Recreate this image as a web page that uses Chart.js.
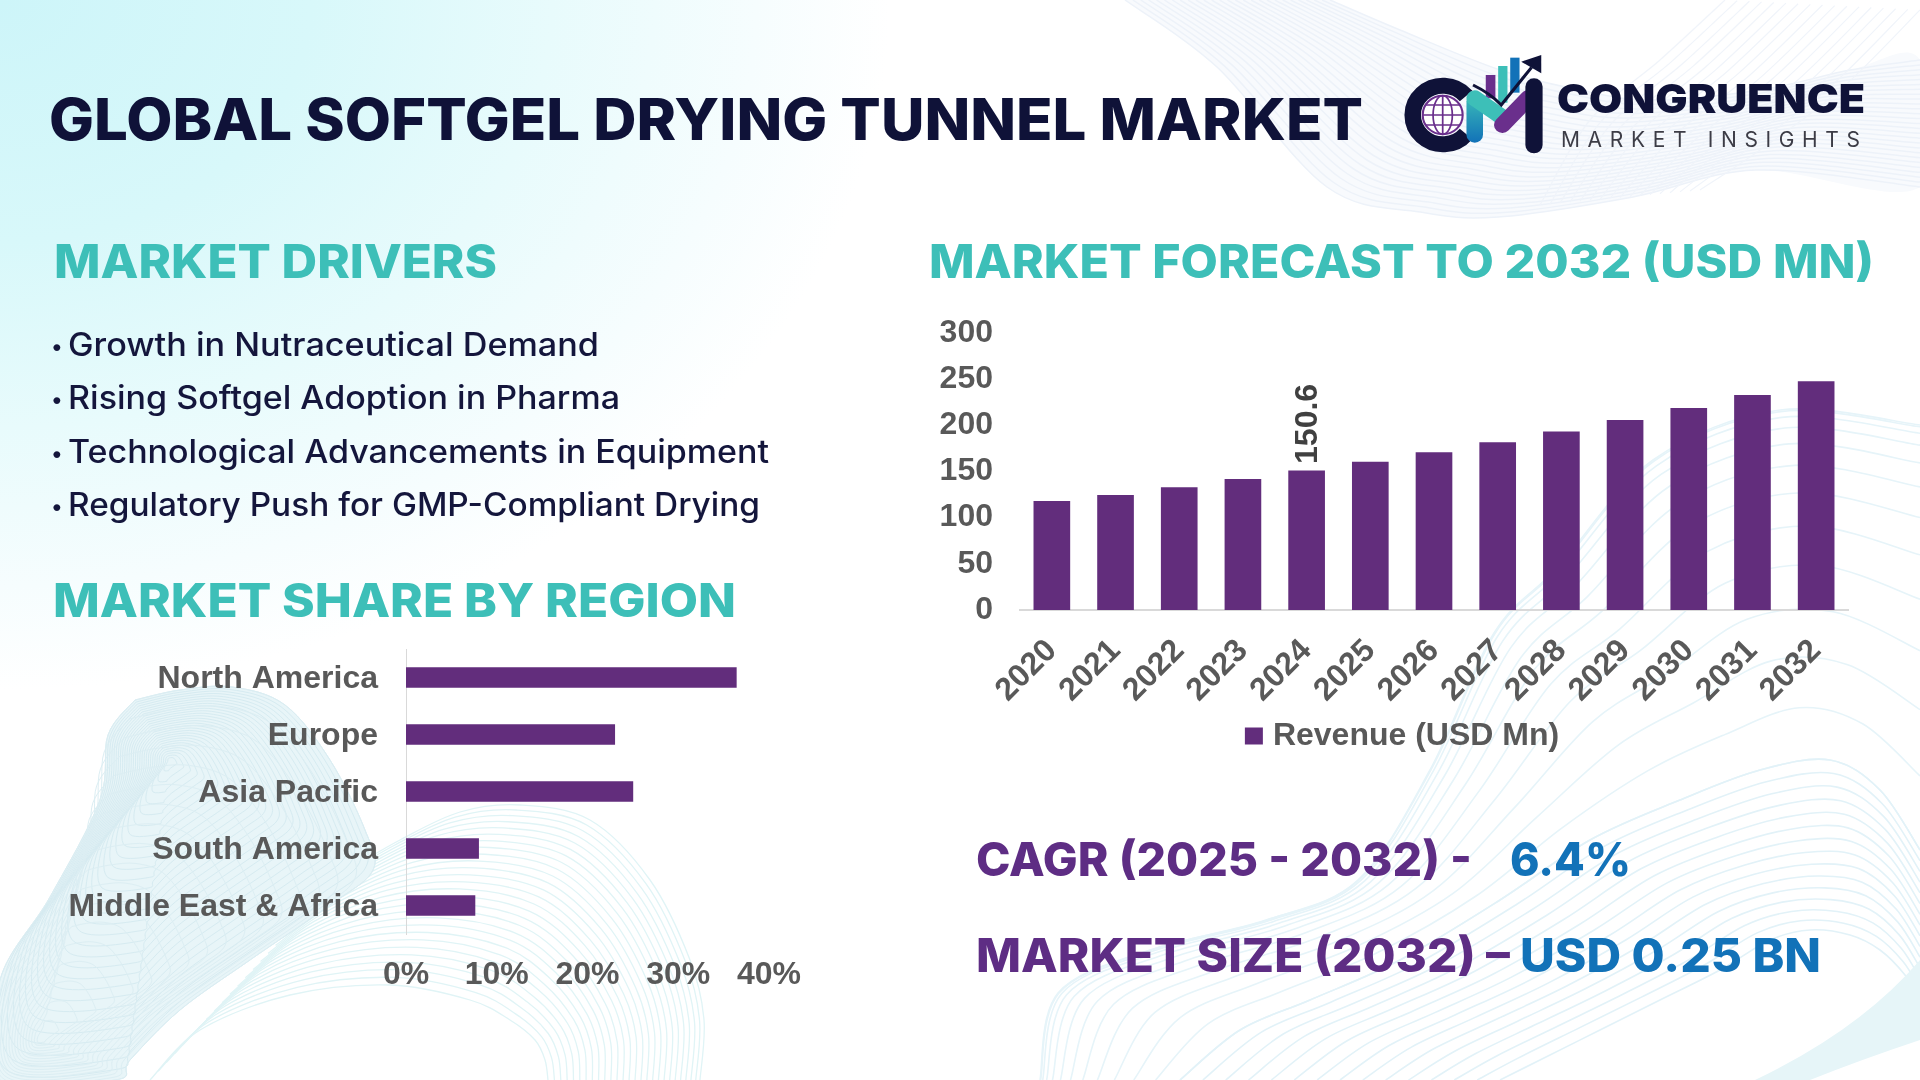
<!DOCTYPE html>
<html>
<head>
<meta charset="utf-8">
<title>Global Softgel Drying Tunnel Market</title>
<script src="https://cdn.jsdelivr.net/npm/chart.js@4"></script>
<style>
  html, body { margin: 0; padding: 0; background: #fff; }
  #page { position: relative; width: 1920px; height: 1080px; overflow: hidden;
    background: radial-gradient(ellipse 890px 690px at 0 0, #cdf5f9 0%, #d8f8fa 35%, #e8fbfc 62%, #f6fdfe 85%, #fff 100%); }
  #bg, #texts { position: absolute; left: 0; top: 0; }
  canvas { position: absolute; }
  #forecastChart { left: 930px; top: 300px; }
  #regionChart { left: 50px; top: 640px; }
  #texts text { font-family: Inter, "Noto Sans", sans-serif; }
  .title { font-weight: 800; font-size: 58px; fill: #0f1238; }
  .head { font-weight: 800; font-size: 46px; fill: #3dbfb8; }
  .item { font-weight: 500; font-size: 32px; fill: #14163c; }
  .dot { font-weight: 500; font-size: 22px; fill: #14163c; }
  .purple { font-weight: 800; font-size: 46px; fill: #5e2d84; }
  .blue { font-weight: 800; font-size: 46px; fill: #1272b8; }
</style>
</head>
<body>
<div id="page">
  <svg id="bg" width="1920" height="1080"></svg>
  <canvas id="forecastChart" width="942" height="462"></canvas>
  <canvas id="regionChart" width="760" height="360"></canvas>
  <svg id="texts" width="1920" height="1080">
    <defs>
      <linearGradient id="legFill" x1="0" y1="0" x2="0" y2="1">
        <stop offset="0" stop-color="#3dbfb8"/>
        <stop offset="1" stop-color="#1272b8"/>
      </linearGradient>
    </defs>
    <text class="title" x="49" y="140" textLength="1314" lengthAdjust="spacingAndGlyphs">GLOBAL SOFTGEL DRYING TUNNEL MARKET</text>

    <text class="head" x="54" y="278" textLength="443" lengthAdjust="spacingAndGlyphs">MARKET DRIVERS</text>
    <text class="dot" x="51" y="354">•</text>
    <text class="item" x="68" y="356" textLength="531" lengthAdjust="spacingAndGlyphs">Growth in Nutraceutical Demand</text>
    <text class="dot" x="51" y="407">•</text>
    <text class="item" x="68" y="409" textLength="552" lengthAdjust="spacingAndGlyphs">Rising Softgel Adoption in Pharma</text>
    <text class="dot" x="51" y="461">•</text>
    <text class="item" x="68" y="463" textLength="701" lengthAdjust="spacingAndGlyphs">Technological Advancements in Equipment</text>
    <text class="dot" x="51" y="514">•</text>
    <text class="item" x="68" y="516" textLength="692" lengthAdjust="spacingAndGlyphs">Regulatory Push for GMP-Compliant Drying</text>

    <text class="head" x="53" y="617" textLength="683" lengthAdjust="spacingAndGlyphs">MARKET SHARE BY REGION</text>
    <text class="head" x="929" y="278" textLength="945" lengthAdjust="spacingAndGlyphs">MARKET FORECAST TO 2032 (USD MN)</text>

    <text class="purple" x="976" y="876" textLength="496" lengthAdjust="spacingAndGlyphs">CAGR (2025 - 2032) -</text>
    <text class="blue" x="1510" y="876" textLength="121" lengthAdjust="spacingAndGlyphs">6.4%</text>
    <text class="purple" x="976" y="972" textLength="534" lengthAdjust="spacingAndGlyphs">MARKET SIZE (2032) –</text>
    <text class="blue" x="1520" y="972" textLength="301" lengthAdjust="spacingAndGlyphs">USD 0.25 BN</text>

    <!-- logo, drawn in zoomed-crop units -->
    <g transform="translate(1380,30) scale(0.3445,0.3333)">
      <path d="M250 198A88 88 0 1 0 250 312" fill="none" stroke="#0f1238" stroke-width="48"/>
      <circle cx="182" cy="255" r="58" fill="#fff" stroke="#6a2f8c" stroke-width="6"/>
      <ellipse cx="182" cy="255" rx="28" ry="58" fill="none" stroke="#6a2f8c" stroke-width="5"/>
      <path d="M182 197V313M124 255H240M132 225H232M132 285H232" stroke="#6a2f8c" stroke-width="5" fill="none"/>
      <rect x="307" y="135" width="28" height="70" fill="#6a2f8c"/>
      <rect x="343" y="108" width="27" height="110" fill="#3dbfb8"/>
      <rect x="378" y="83" width="27" height="105" fill="#1272b8"/>
      <rect x="251" y="190" width="48" height="148" rx="24" fill="url(#legFill)"/>
      <path d="M275 205L355 262" stroke="#3dbfb8" stroke-width="48" stroke-linecap="round"/>
      <path d="M355 285L430 205" stroke="#6a2f8c" stroke-width="48" stroke-linecap="round"/>
      <path d="M447 170V345" stroke="#0f1238" stroke-width="50" stroke-linecap="round"/>
      <path d="M270 165Q320 190 352 225L440 112" stroke="#0f1238" stroke-width="9" fill="none"/>
      <path d="M468 75L410 95L468 130Z" fill="#0f1238"/>
    </g>
    <text x="1557" y="113" font-size="40" font-weight="900" fill="#0f1238" textLength="308" lengthAdjust="spacingAndGlyphs">CONGRUENCE</text>
    <text x="1561" y="147" font-size="21" font-weight="400" fill="#3c3c46" textLength="299" lengthAdjust="spacing">MARKET INSIGHTS</text>
  </svg>
</div>

<script>
const years = ['2020','2021','2022','2023','2024','2025','2026','2027','2028','2029','2030','2031','2032'];
const revenue = [117.6,124.1,132.7,141.4,150.6,160.2,170.5,181.4,193.0,205.4,218.5,232.5,247.4];
const labelledYears = ['2024'];

const regions = ['North America','Europe','Asia Pacific','South America','Middle East & Africa'];
const regionShare = [36.4,23.0,25.0,8.0,7.6];

const seriesName = 'Revenue (USD Mn)';
const purple = '#622d7c';
const labelGrey = '#595959';
const axisGrey = '#d9d9d9';
const chartFont = { family: '"Liberation Sans", Arial, sans-serif', size: 32, weight: 'bold' };

Chart.defaults.animation = false;
Chart.defaults.responsive = false;

// only the years in labelledYears get a rotated value above the bar
const barValueLabel = {
  id: 'barValueLabel',
  afterDatasetsDraw(chart) {
    const { ctx, scales } = chart;
    labelledYears.forEach((year) => {
      const i = years.indexOf(year);
      ctx.save();
      ctx.translate(scales.x.getPixelForValue(i) + 2, scales.y.getPixelForValue(revenue[i]) - 7);
      ctx.rotate(-Math.PI / 2);
      ctx.font = 'bold 32px "Liberation Sans", Arial, sans-serif';
      ctx.fillStyle = '#404040';
      ctx.textAlign = 'left';
      ctx.textBaseline = 'middle';
      ctx.fillText(revenue[i].toFixed(1), 0, 0);
      ctx.restore();
    });
  }
};

// legend sits under the canvas centre, not under the plot centre
const legendShift = {
  id: 'legendShift',
  afterLayout(chart) {
    chart.legend.left += 16;
    chart.legend.right += 16;
  }
};

// tick padding would otherwise be added to the plot margins
const noScalePadding = (scale) => {
  scale.paddingTop = 0;
  scale.paddingBottom = 0;
  scale.paddingLeft = 0;
  scale.paddingRight = 0;
};

// thick border on a small box, so the text sits closer to the swatch
const legendItems = (chart) => {
  const items = Chart.defaults.plugins.legend.labels.generateLabels(chart);
  items.forEach((item) => {
    item.strokeStyle = purple;
    item.lineWidth = 12;
  });
  return items;
};

new Chart(document.getElementById('forecastChart'), {
  type: 'bar',
  data: {
    labels: years,
    datasets: [{ label: seriesName, data: revenue, backgroundColor: purple, barThickness: 36 }]
  },
  plugins: [barValueLabel, legendShift],
  options: {
    layout: { padding: { top: 33, right: 24 } },
    plugins: {
      tooltip: { enabled: false },
      legend: {
        position: 'bottom',
        labels: { boxWidth: 6, boxHeight: 5, color: labelGrey, font: chartFont, padding: 10, generateLabels: legendItems }
      }
    },
    scales: {
      x: {
        grid: { display: false },
        border: { color: axisGrey, width: 2 },
        afterFit: (scale) => { scale.height = 100; noScalePadding(scale); },
        ticks: { color: labelGrey, font: chartFont, minRotation: 45, maxRotation: 45, padding: 14 }
      },
      y: {
        min: 0,
        max: 300,
        grid: { display: false, drawTicks: false },
        border: { display: false },
        afterFit: (scale) => { scale.width = 90; noScalePadding(scale); },
        ticks: { stepSize: 50, color: labelGrey, font: chartFont, padding: 27 }
      }
    }
  }
});

new Chart(document.getElementById('regionChart'), {
  type: 'bar',
  data: {
    labels: regions,
    datasets: [{ label: 'Share', data: regionShare, backgroundColor: purple, barThickness: 20 }]
  },
  options: {
    indexAxis: 'y',
    layout: { padding: { top: 9, right: 41 } },
    plugins: { legend: { display: false }, tooltip: { enabled: false } },
    scales: {
      x: {
        min: 0,
        max: 40,
        grid: { display: false, drawTicks: false },
        border: { display: false },
        afterFit: (scale) => { scale.height = 66; noScalePadding(scale); },
        ticks: { stepSize: 10, color: labelGrey, font: chartFont, padding: 22, callback: (v) => v + '%' }
      },
      y: {
        grid: { display: false, drawTicks: false },
        border: { color: axisGrey, width: 1 },
        afterFit: (scale) => { scale.width = 356; noScalePadding(scale); },
        ticks: { color: labelGrey, font: chartFont, padding: 28, labelOffset: 2 }
      }
    }
  }
});

// background wave ribbons, not data
const bg = document.getElementById('bg');

function smoothPath(pts) {
  let d = `M${pts[0][0]} ${pts[0][1]}`;
  for (let i = 0; i < pts.length - 1; i++) {
    const p0 = pts[i - 1] || pts[i], p1 = pts[i], p2 = pts[i + 1], p3 = pts[i + 2] || p2;
    const c1 = [p1[0] + (p2[0] - p0[0]) / 6, p1[1] + (p2[1] - p0[1]) / 6];
    const c2 = [p2[0] - (p3[0] - p1[0]) / 6, p2[1] - (p3[1] - p1[1]) / 6];
    d += `C${c1[0]} ${c1[1]} ${c2[0]} ${c2[1]} ${p2[0]} ${p2[1]}`;
  }
  return d;
}

function addPath(d, attrs) {
  const el = document.createElementNS('http://www.w3.org/2000/svg', 'path');
  el.setAttribute('d', d);
  Object.entries(attrs).forEach(([k, v]) => el.setAttribute(k, v));
  bg.appendChild(el);
}

function ribbon(a, b, n, stroke, width, ease) {
  for (let k = 0; k <= n; k++) {
    const t = Math.pow(k / n, ease);
    const pts = a.map((p, i) => [p[0] + (b[i][0] - p[0]) * t, p[1] + (b[i][1] - p[1]) * t]);
    addPath(smoothPath(pts), { fill: 'none', stroke, 'stroke-width': width });
  }
}

// top right
const trOuter = [[1125,0],[1217,67],[1327,187],[1420,212],[1498,217],[1633,197],[1756,170],[1920,187]];
const trInner = [[1330,0],[1400,30],[1500,70],[1580,90],[1650,100],[1760,90],[1850,70],[1920,60]];
addPath(smoothPath(trOuter.concat(trInner.slice().reverse())) + 'Z', { fill: '#f8fafd', stroke: 'none' });
ribbon(trOuter, trInner, 26, '#edf2f9', 1.5, 1);
ribbon([[1725,0],[1660,60],[1590,120],[1540,205]], [[1920,10],[1840,90],[1760,150],[1700,190]], 16, '#f0f4fa', 1.2, 1);

// bottom right
const brOuter = [[1040,1080],[1058,993],[1150,950],[1266,920],[1358,880],[1430,770],[1494,633],[1558,567],[1653,460],[1780,410],[1920,425]];
const brInner = [[1180,1080],[1240,1030],[1310,1000],[1400,960],[1500,900],[1590,840],[1680,800],[1760,770],[1830,760],[1880,790],[1920,850]];
ribbon(brOuter, brInner, 12, '#e6f4f9', 1.6, 2.2);
ribbon(brInner, [[1500,1080],[1540,1060],[1600,1030],[1660,1000],[1720,970],[1770,940],[1810,930],[1850,935],[1880,950],[1905,975],[1920,1000]], 14, '#e2f2f8', 1.6, 1);
addPath('M1755 1080Q1860 1030 1920 960V1040Q1860 1060 1810 1080Z', { fill: '#e6f5f8', stroke: 'none' });

// bottom left arch
const archOuter = [[343,873],[400,840],[460,812],[520,805],[590,820],[650,880],[690,960],[704,1020],[700,1080]];
const archInner = [[150,1080],[200,1030],[290,995],[390,985],[470,1000],[510,1020],[535,1040],[545,1060],[548,1080]];
ribbon(archOuter, archInner, 26, '#e0f4f6', 1.3, 1.1);

// bottom left mesh blob
const blob = [[135,700],[180,690],[232,687],[285,705],[330,760],[365,830],[373,870],[330,905],[250,960],[180,1010],[130,1060],[115,1080],[0,1080],[0,980],[50,897],[100,800],[108,735],[135,700]];
addPath(smoothPath(blob) + 'Z', { fill: '#e8f5f8', stroke: 'none' });
const blobCentre = blob.map(() => [170, 760]);
ribbon(blob, blobCentre, 30, '#d6ebf1', 1, 1);
ribbon(blob, blob.map(() => [40, 1040]), 18, '#dceef3', 1, 1);
</script>
</body>
</html>
